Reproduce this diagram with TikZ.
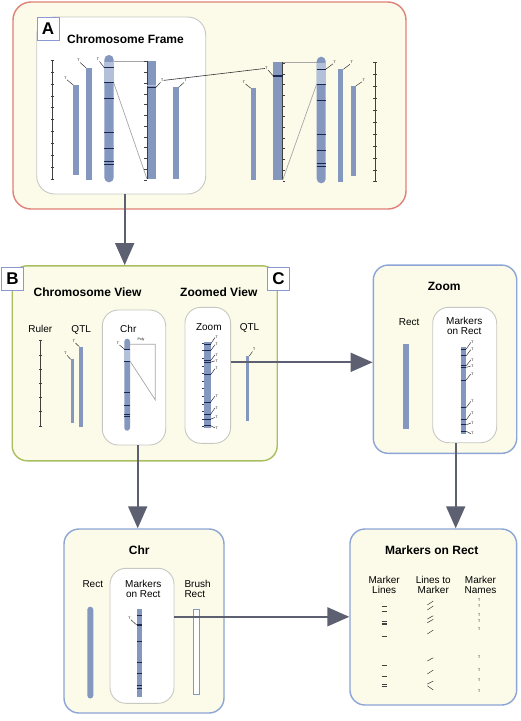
\documentclass[tikz,border=0pt]{standalone}
\usepackage{fontspec}
\setmainfont{Liberation Sans}
\usetikzlibrary{arrows.meta}

\definecolor{cream}{RGB}{252,251,234}
\definecolor{redline}{RGB}{224,128,118}
\definecolor{greenline}{RGB}{168,190,96}
\definecolor{blueline}{RGB}{140,164,214}
\definecolor{greyline}{RGB}{200,200,194}
\definecolor{tagline}{RGB}{140,152,210}
\definecolor{barfill}{RGB}{132,151,190}
\definecolor{lightbar}{RGB}{178,192,218}
\definecolor{band}{RGB}{28,38,78}
\definecolor{flowgrey}{RGB}{92,96,112}

\tikzset{
  panel/.style={draw, line width=1.4pt, fill=cream, rounded corners=18pt},
  viewbox/.style={draw=greyline, line width=0.9pt, fill=white, rounded corners=18pt},
  tagbox/.style={draw=tagline, line width=0.9pt, fill=white, minimum width=22pt, minimum height=23pt, inner sep=0pt, font=\bfseries\fontsize{17}{17}\selectfont},
  heading/.style={font=\bfseries\fontsize{12}{14}\selectfont, anchor=base, inner sep=0pt},
  lbl/.style={font=\fontsize{10}{10.5}\selectfont, anchor=base, inner sep=0pt},
  bar/.style={fill=barfill},
  bandline/.style={draw=band, line width=0.9pt},
  mkname/.style={font=\fontsize{3.5}{3.5}\selectfont, inner sep=0.3pt},
  pinline/.style={draw=black!85, line width=0.45pt},
  rulerline/.style={draw=black!75, line width=0.6pt},
  polyline/.style={draw=black!35, line width=0.7pt},
  marklink/.style={draw=black!80, line width=0.6pt},
  flow/.style={draw=flowgrey, line width=1.8pt, -{Triangle[width=19pt,length=22pt]}},
}
\newcommand{\twolines}[3][c]{\begin{tabular}[t]{@{}#1@{}}#2\\#3\end{tabular}}

\begin{document}
\begin{tikzpicture}[x=1pt,y=-1pt]
\useasboundingbox (0,0) rectangle (520,721);

% panels
\node[panel, draw=redline, minimum width=393pt, minimum height=207pt] (panelA) at (209.5,105.5) {};
\node[viewbox, minimum width=169pt, minimum height=177pt] (frameA) at (121.2,105.5) {};
\node[panel, draw=greenline, rounded corners=15pt, minimum width=265pt, minimum height=195pt] (panelB) at (144.7,363.3) {};
\node[viewbox, rounded corners=16pt, minimum width=63.4pt, minimum height=135pt] (chrB) at (134,377.5) {};
\node[viewbox, rounded corners=16pt, minimum width=45.7pt, minimum height=136pt] (zoomC) at (207.8,375.3) {};
\node[panel, draw=blueline, rounded corners=15pt, minimum width=143.4pt, minimum height=188.3pt] (panelZoom) at (445,359.2) {};
\node[viewbox, rounded corners=16pt, minimum width=64pt, minimum height=135.4pt] (markZoom) at (464.7,375) {};
\node[panel, draw=blueline, rounded corners=15pt, minimum width=160pt, minimum height=184pt] (panelChr) at (144,621) {};
\node[viewbox, rounded corners=16pt, minimum width=64pt, minimum height=135pt] (markChr) at (142,635.8) {};
\node[panel, draw=blueline, rounded corners=15pt, minimum width=166.7pt, minimum height=176pt] (panelMark) at (433.3,617) {};

% A: chromosome frame
\node[heading] (titleA) at (125.5,43) {Chromosome Frame};
\draw[rulerline] (52.3,60.3) -- (52.3,179);
\foreach \i in {0,...,10} \draw[rulerline] (50.6,{60.3+\i*11.87}) -- (54,{60.3+\i*11.87});
\fill[bar] (73.3,85) rectangle (79,174.7);
\draw[pinline] (73.3,85) -- (67,79.8) node[mkname, anchor=south east] (qa1) {T};
\fill[bar] (86,67.7) rectangle (91.7,180);
\draw[pinline] (86,67.7) -- (80,62.5) node[mkname, anchor=south east] (qa2) {T};
\fill[bar, rounded corners=4.6pt] (104.3,55) rectangle (113.7,182.3);
\fill[lightbar] (104.3,61.7) rectangle (113.7,82.7);
\foreach \y in {67.7,82.7,98.3,132.5,148,161,164} \draw[bandline] (104.3,\y) -- (113.7,\y);
\draw[pinline] (104.3,67.7) -- (99.5,61.5) node[mkname, anchor=south east] (ca1) {T};
\draw[polyline] (113.7,61) -- (147,61);
\draw[polyline] (113.7,82.7) -- (147,179);
\fill[bar] (147,60.7) rectangle (156,179);
\draw[rulerline, line width=0.8pt] (147,60.7) -- (147,179);
\foreach \i in {0,...,11} \draw[rulerline, line width=0.35pt] (144.3,{61.5+\i*10.75}) -- (147,{61.5+\i*10.75});
\draw[lightbar, line width=1pt] (147,85.4) -- (156,85.4);
\draw[bandline, line width=1.4pt] (147,87.3) -- (156,87.3);
\draw[pinline] (156,87.3) -- (160.5,82.3) node[mkname, anchor=south west] (mkA) {T};
\fill[bar] (172.7,87.3) rectangle (178.7,178.7);
\draw[pinline] (178.7,87.3) -- (184,82.5) node[mkname, anchor=south west] (qa3) {T};

\fill[bar] (251,88.3) rectangle (256.3,180);
\draw[pinline] (251,88.3) -- (245.5,84) node[mkname, anchor=south east] (qb1) {T};
\fill[bar] (273.3,62.3) rectangle (282.7,180);
\draw[rulerline, line width=0.8pt] (282.7,62.3) -- (282.7,180);
\foreach \i in {0,...,11} \draw[rulerline, line width=0.35pt] (282.7,{63+\i*10.7}) -- (285.4,{63+\i*10.7});
\draw[bandline, line width=1.4pt] (273.3,76) -- (282.7,76);
\draw[pinline] (273.3,76) -- (268,70) node[mkname, anchor=south east] (mkB) {T};
\draw[polyline] (282.7,62.3) -- (316.7,62.3);
\draw[polyline] (282.7,180) -- (316.7,84);
\fill[bar, rounded corners=4.5pt] (316.7,56.7) rectangle (325.7,183.3);
\fill[lightbar] (316.7,62.5) rectangle (325.7,84);
\foreach \y in {69.3,84,100,134.3,150.3,163.3,166} \draw[bandline] (316.7,\y) -- (325.7,\y);
\draw[pinline] (325.7,69.3) -- (333,63.8) node[mkname, anchor=south west] (cb1) {T};
\fill[bar] (338.3,69.3) rectangle (343.3,181.7);
\draw[pinline] (343.3,69.3) -- (350,64.3) node[mkname, anchor=south west] (qb2) {T};
\fill[bar] (350.7,86) rectangle (355.7,176);
\draw[pinline] (355.7,86) -- (362,81.8) node[mkname, anchor=south west] (qb3) {T};
\draw[rulerline] (375,62.7) -- (375,181.7);
\foreach \i in {0,...,10} \draw[rulerline] (373.3,{62.7+\i*11.9}) -- (376.7,{62.7+\i*11.9});
\draw[marklink] (mkA) -- (mkB);

% B: chromosome view, C: zoomed view
\node[heading] (titleB) at (87.5,296) {Chromosome View};
\node[heading] (titleC) at (218.8,296) {Zoomed View};
\node[lbl] (rulerB) at (40.3,332) {Ruler};
\node[lbl] (qtlB) at (81.2,332) {QTL};
\node[lbl] (chrLbl) at (128.3,332) {Chr};
\node[lbl] (zoomLbl) at (208.8,330) {Zoom};
\node[lbl] (qtlC) at (249.5,330) {QTL};
\draw[rulerline] (40.7,340.7) -- (40.7,426);
\foreach \i in {0,...,6} \draw[rulerline] (39.2,{340.7+\i*14.2}) -- (42.2,{340.7+\i*14.2});
\fill[bar] (70.7,359.3) rectangle (74,423.3);
\draw[pinline] (70.7,359.3) -- (67,355.3) node[mkname, anchor=south east] (qc1) {T};
\fill[bar] (79.3,346.7) rectangle (83,426.7);
\draw[pinline] (79.3,346.7) -- (75.5,343) node[mkname, anchor=south east] (qc2) {T};
\fill[bar, rounded corners=2.8pt] (124.3,338.7) rectangle (130,430.7);
\fill[lightbar] (124.3,349) rectangle (130,361);
\foreach \y in {349,361,392.7,405.7,414.3,416.3} \draw[bandline, line width=0.7pt] (124.3,\y) -- (130,\y);
\draw[pinline] (124.3,349) -- (119.5,345) node[mkname, anchor=south east] (cc1) {T};
\draw[polyline] (130,344.3) -- (155.3,344.3) -- (155.3,400) -- (130,361);
\node[mkname] (polyTag) at (141,339.5) {Poly};
\fill[bar] (204,341.7) rectangle (210.7,428.3);
\foreach \i in {0,...,11} \draw[rulerline, line width=0.35pt] (201.5,{343+\i*7.6}) -- (204,{343+\i*7.6});
\foreach \f/\g/\w [count=\i] in {0.027/-0.049/0.6, 0.103/0.034/1.2, 0.217/0.152/1.2, 0.236/0.221/0.8, 0.380/0.312/0.6, 0.696/0.627/0.6, 0.837/0.764/0.6, 0.894/0.875/0.6, 0.970/0.996/0.6} {
  \draw[bandline, line width=\w pt] (204,{341.7+\f*86.6}) -- (210.7,{341.7+\f*86.6});
  \draw[pinline] (210.7,{341.7+\f*86.6}) -- (215,{341.7+\g*86.6}) node[mkname, anchor=west] (zc\i) {T};
}
\fill[bar] (245.7,356) rectangle (249.3,420.7);
\draw[pinline] (249.3,356) -- (252.5,351.5) node[mkname, anchor=south west] (qc3) {T};

% zoom panel
\node[heading] (titleZoom) at (444.2,290) {Zoom};
\node[lbl] (rectZoom) at (409.2,325) {Rect};
\node[lbl] (markZoomLbl) at (464.3,324) {\twolines{Markers}{on Rect}};
\fill[bar] (403.3,344.3) rectangle (409.3,429);
\fill[bar] (460.7,346.7) rectangle (466.3,434);
\foreach \f/\g/\w [count=\i] in {0.027/-0.049/0.6, 0.103/0.034/1.2, 0.217/0.152/1.2, 0.236/0.221/0.8, 0.380/0.312/0.6, 0.696/0.627/0.6, 0.837/0.764/0.6, 0.894/0.875/0.6, 0.970/0.996/0.6} {
  \draw[bandline, line width=\w pt] (460.7,{346.7+\f*87.3}) -- (466.3,{346.7+\f*87.3});
  \draw[pinline] (466.3,{346.7+\f*87.3}) -- (470.8,{346.7+\g*87.3}) node[mkname, anchor=west] (zz\i) {T};
}

% chr panel
\node[heading] (titleChr) at (139.2,554) {Chr};
\node[lbl] (rectChr) at (92.8,587.3) {Rect};
\node[lbl] (markChrLbl) at (143.3,587.3) {\twolines{Markers}{on Rect}};
\node[lbl, anchor=base west] (brushLbl) at (184.3,587.3) {\twolines[l]{Brush}{Rect}};
\fill[bar, rounded corners=3pt] (87.3,606.7) rectangle (93.3,698.5);
\fill[bar] (136.7,609) rectangle (142.3,696.7);
\foreach \y in {615,641.7,662.3,673.3,685.7,687.8} \draw[bandline, line width=0.6pt] (136.7,\y) -- (142.3,\y);
\draw[bandline, line width=1.2pt] (136.7,625) -- (142.3,625);
\draw[pinline] (136.7,625) -- (131,619.8) node[mkname, anchor=south east] (cm1) {T};
\draw[draw=barfill, line width=1pt, fill=white] (193.3,609) rectangle (199,694.3);

% markers on rect panel
\node[heading] (titleMark) at (431.7,554) {Markers on Rect};
\node[lbl] (colLines) at (384.2,583.3) {\twolines{Marker}{Lines}};
\node[lbl] (colTo) at (433.3,583.3) {\twolines{Lines to}{Marker}};
\node[lbl] (colNames) at (480.5,583.3) {\twolines{Marker}{Names}};
\foreach \y/\w in {606.7/0.5, 611.7/1.1, 621.7/1.1, 624/1.1, 636.7/0.5, 665/0.5, 676.7/0.5, 684.3/0.5, 686.7/0.5}
  \draw[draw=black!75, line width=\w pt] (381.7,\y) -- (387.3,\y);
\foreach \a/\b in {605/601, 610/606, 619/615.7, 622.7/619.3, 634/630, 661/657.7, 674/670, 684/681, 685.7/690}
  \draw[pinline] (427.3,\a) -- (433.3,\b);
\foreach \y [count=\i] in {600,606.7,615.7,621.7,629.3,657.7,670,680.7,691.7}
  \node[mkname] (nm\i) at (479.3,\y) {T};

% tags
\node[tagbox] (tagA) at (48,29) {A};
\node[tagbox] (tagB) at (12.5,278.5) {B};
\node[tagbox] (tagC) at (278.5,278.5) {C};

% flow arrows
\coordinate (a1) at ([xshift=3.5pt]frameA.south);
\coordinate (b1) at ([xshift=3.7pt]chrB.south);
\coordinate (c1) at ([yshift=13pt]zoomC.east);
\coordinate (d1) at ([xshift=-9pt]markZoom.south);
\coordinate (e1) at ([yshift=19pt]markChr.east);
\draw[flow] (a1) -- (a1 |- panelB.north);
\draw[flow] (b1) -- (b1 |- panelChr.north);
\draw[flow] (c1) -- (c1 -| panelZoom.west);
\draw[flow] (d1) -- (d1 |- panelMark.north);
\draw[flow] (e1) -- (e1 -| panelMark.west);
\end{tikzpicture}
\end{document}
